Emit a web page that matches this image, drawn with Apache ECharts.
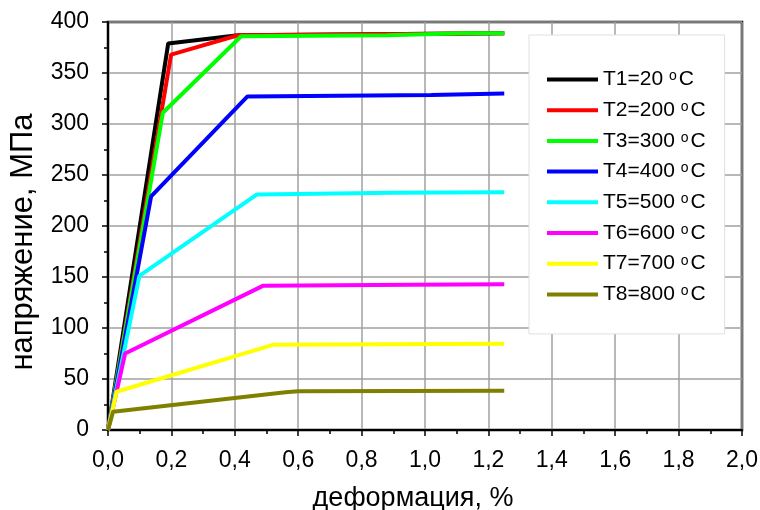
<!DOCTYPE html>
<html><head><meta charset="utf-8">
<script src="https://cdn.jsdelivr.net/npm/echarts@6/dist/echarts.min.js"></script>
<style>html,body{margin:0;padding:0;background:#fff}#c{width:760px;height:510px}</style>
</head><body><div id="c"></div>
<script>
var seriesNames = ['T1=20 ', 'T2=200 ', 'T3=300 ', 'T4=400 ', 'T5=500 ', 'T6=600 ', 'T7=700 ', 'T8=800 '];
var colors = ['#000000', '#ff0000', '#00ff00', '#0000ff', '#00ffff', '#ff00ff', '#ffff00', '#808000'];
var t1 = [[0, 0], [0.19, 379], [0.41, 387], [1.25, 389]];
var t2 = [[0, 0], [0.199, 368], [0.41, 387], [1.25, 389]];
var t3 = [[0, 0], [0.173, 311], [0.42, 386], [0.88, 387], [1.12, 389], [1.25, 389]];
var t4 = [[0, 0], [0.136, 229], [0.44, 327], [1.02, 328.5], [1.25, 330]];
var t5 = [[0, 0], [0.099, 151], [0.47, 231], [0.9, 232.5], [1.25, 233]];
var t6 = [[0, 0], [0.054, 75], [0.49, 141.5], [0.96, 142.5], [1.25, 143]];
var t7 = [[0, 0], [0.027, 37.5], [0.52, 83.5], [1.25, 84.5]];
var t8 = [[0, 0], [0.016, 18], [0.56, 37], [0.6, 38], [1.25, 38.5]];
var allData = [t1, t2, t3, t4, t5, t6, t7, t8];
var xTicks = ['0,0', '0,2', '0,4', '0,6', '0,8', '1,0', '1,2', '1,4', '1,6', '1,8', '2,0'];
var yTicks = [0, 50, 100, 150, 200, 250, 300, 350, 400];

var font = '"Liberation Sans", Arial, sans-serif';
var chart = echarts.init(document.getElementById('c'), null, {renderer: 'canvas'});
var series = allData.map(function (d, i) {
  return {
    name: seriesNames[i], type: 'line', data: d, showSymbol: false, symbol: 'none',
    lineStyle: {color: colors[i], width: 4}, itemStyle: {color: colors[i]},
    animation: false, z: 2 + i
  };
});
chart.setOption({
  animation: false,
  backgroundColor: '#fff',
  grid: {left: 108, right: 18, top: 22, bottom: 80, containLabel: false, outerBoundsMode: 'none',
    show: true, borderColor: '#000', borderWidth: 2.5, backgroundColor: 'transparent'},
  xAxis: {
    type: 'value', min: 0, max: 2, interval: 0.2,
    name: 'деформация, %', nameLocation: 'middle', nameGap: 55,
    nameTextStyle: {fontFamily: font, fontSize: 27, color: '#000', padding: [0, 24, 0, 0]},
    axisLine: {show: true, onZero: false, lineStyle: {color: '#000', width: 2}},
    axisTick: {show: true, inside: false, length: 6, lineStyle: {color: '#000', width: 1.5}},
    minorTick: {show: true, splitNumber: 2, length: 4, lineStyle: {color: '#000', width: 1.5}},
    axisLabel: {fontFamily: font, fontSize: 23, color: '#000', margin: 19,
      formatter: function (v) { return xTicks[Math.round(v / 0.2)]; }},
    splitLine: {show: true, lineStyle: {color: '#a0a0a0', width: 1.5}}
  },
  yAxis: {
    type: 'value', min: 0, max: 400, interval: 50,
    name: 'напряжение, МПа', nameLocation: 'middle', nameGap: 69,
    nameTextStyle: {fontFamily: font, fontSize: 31, color: '#000', padding: [0, 32, 0, 0]},
    axisLine: {show: true, onZero: false, lineStyle: {color: '#000', width: 2}},
    axisTick: {show: true, inside: false, length: 6, lineStyle: {color: '#000', width: 1.5}},
    minorTick: {show: true, splitNumber: 2, length: 4, lineStyle: {color: '#000', width: 1.5}},
    axisLabel: {fontFamily: font, fontSize: 23, color: '#000', margin: 19,
      formatter: function (v) { return yTicks.indexOf(v) >= 0 ? String(v) : ''; }},
    splitLine: {show: true, lineStyle: {color: '#a0a0a0', width: 1.5}}
  },
  legend: {
    orient: 'vertical', left: 529, top: 35,
    padding: [34, 19, 29, 18],
    backgroundColor: '#fff', borderColor: '#e0e0e0', borderWidth: 1,
    itemWidth: 51, itemHeight: 4, itemGap: 9.7, icon: 'rect',
    data: seriesNames,
    formatter: function (n) { return '{a|' + n + '}{s|o}{a|C}'; },
    textStyle: {
      fontFamily: font, fontSize: 21, color: '#000', lineHeight: 20,
      rich: {
        a: {fontFamily: font, fontSize: 21, color: '#000', lineHeight: 20},
        s: {fontFamily: font, fontSize: 14, color: '#000', verticalAlign: 'top', lineHeight: 6, padding: [0, 2, 0, 0]}
      }
    }
  },
  series: series
});
</script></body></html>
